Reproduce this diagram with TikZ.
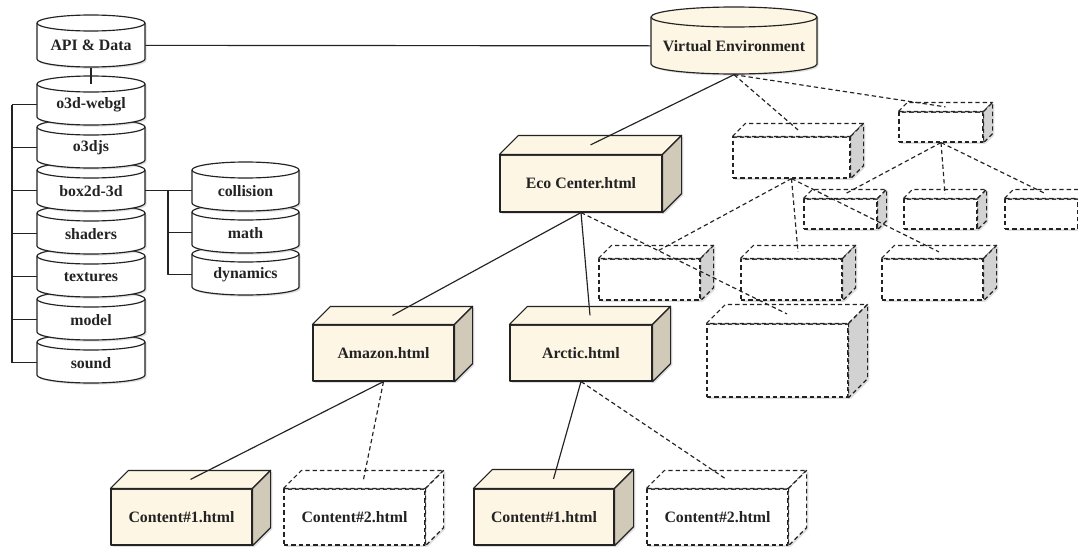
\documentclass[tikz,border=0pt]{standalone}
\usepackage{fontspec}
\setmainfont{Liberation Serif}
\usetikzlibrary{shadows}

\definecolor{cream}{RGB}{253,246,228}
\definecolor{creamside}{RGB}{210,202,184}
\definecolor{greyside}{RGB}{210,210,210}
\definecolor{ink}{RGB}{35,35,35}

\def\pxu{0.6pt}

\tikzset{
  soft/.style={drop shadow={opacity=0.25, shadow xshift=1pt, shadow yshift=-1pt}},
  page/.style={draw=ink, fill=cream, line width=0.7pt, soft},
  ghost/.style={draw=ink, dash pattern=on 2.6pt off 1.8pt, fill=white, line width=0.7pt, soft},
  link/.style={draw=ink, line width=0.7pt},
  dlink/.style={link, dash pattern=on 2.6pt off 1.8pt},
}

% name, cx, top centre y, x radius, y radius, body height, fill, text
\newcommand{\drum}[8]{%
  \path[draw=ink, line width=0.7pt, fill=#7, soft] (#2-#4,#3) -- (#2-#4,#3+#6)
    arc[start angle=180, end angle=360, x radius=#4*\pxu, y radius=#5*\pxu]
    -- (#2+#4,#3)
    arc[start angle=0, end angle=180, x radius=#4*\pxu, y radius=#5*\pxu] -- cycle;
  \draw[ink, line width=0.7pt] (#2-#4,#3)
    arc[start angle=180, end angle=360, x radius=#4*\pxu, y radius=#5*\pxu];
  \node[minimum width=2*#4*\pxu, minimum height=(#6+#5)*\pxu, anchor=north, inner sep=0pt] (#1) at (#2,#3) {#8};
}

% node, depth, line style, top fill, side fill
\newcommand{\pagecube}[5]{%
  \draw[#3, fill=#4] (#1.north west) -- ++(#2,-#2) -- ([shift={(#2,-#2)}]#1.north east) -- (#1.north east) -- cycle;
  \draw[#3, fill=#5] (#1.north east) -- ++(#2,-#2) -- ([shift={(#2,-#2)}]#1.south east) -- (#1.south east) -- cycle;
  \coordinate (#1-top) at ([shift={(#2/2,-#2/2)}]#1.north);
}

\begin{document}
\begin{tikzpicture}[x=0.6pt, y=-0.6pt, font=\fontsize{9.5}{11}\selectfont\bfseries, text=ink, line join=round]
\useasboundingbox (0,0) rectangle (1078,546);

% Data stacks
\drum{api}{91}{23}{54}{8}{36}{white}{API \& Data}
\foreach \n/\i/\t in {sound/6/sound, model/5/model, textures/4/textures, shaders/3/shaders,
                      box2d/2/box2d-3d, o3djs/1/o3djs, webgl/0/o3d-webgl} {
  \drum{\n}{91}{84+43*\i}{54}{8}{33}{white}{\t}
}
\foreach \n/\i/\t in {dynamics/2/dynamics, math/1/math, collision/0/collision} {
  \drum{\n}{245.5}{170+42*\i}{53.5}{8}{33}{white}{\t}
}
\drum{ve}{734}{17}{83}{10}{47}{cream}{Virtual Environment}

% Brackets
\coordinate (lbus) at (12,0);
\coordinate (rbus) at (168,0);
\foreach \n in {webgl, o3djs, box2d, shaders, textures, model, sound}
  \draw[link] (\n.west) -- (\n.west -| lbus);
\draw[link] (webgl.west -| lbus) -- (sound.west -| lbus);
\draw[link] (box2d.east) -- (collision.west);
\draw[link] (box2d.east -| rbus) |- (dynamics.west);
\draw[link] (math.west -| rbus) -- (math.west);

% Pages
\node[page, minimum width=162*\pxu, minimum height=57*\pxu] (eco) at (581,183.5) {Eco Center.html};
\pagecube{eco}{19}{page}{cream}{creamside}
\node[page, minimum width=141*\pxu, minimum height=56*\pxu] (amazon) at (383.5,353) {Amazon.html};
\pagecube{amazon}{18}{page}{cream}{creamside}
\node[page, minimum width=142*\pxu, minimum height=56*\pxu] (arctic) at (581,353) {Arctic.html};
\pagecube{arctic}{18}{page}{cream}{creamside}
\node[page, minimum width=141*\pxu, minimum height=56*\pxu] (conta) at (181.5,517) {Content\#1.html};
\pagecube{conta}{18}{page}{cream}{creamside}
\node[ghost, minimum width=141*\pxu, minimum height=56*\pxu] (contb) at (354.5,517) {Content\#2.html};
\pagecube{contb}{18}{ghost}{white}{white}
\node[page, minimum width=140*\pxu, minimum height=56*\pxu] (contc) at (544,517) {Content\#1.html};
\pagecube{contc}{19}{page}{cream}{creamside}
\node[ghost, minimum width=141*\pxu, minimum height=56*\pxu] (contd) at (717.5,517) {Content\#2.html};
\pagecube{contd}{18}{ghost}{white}{white}

% Empty pages
\node[ghost, minimum width=117*\pxu, minimum height=41*\pxu] (ga) at (791.5,157.5) {};
\pagecube{ga}{13}{ghost}{white}{greyside}
\node[ghost, minimum width=84*\pxu, minimum height=30*\pxu] (gb) at (941,127) {};
\pagecube{gb}{9}{ghost}{white}{greyside}
\foreach \n/\x in {gc/840.5, gd/940.5, ge/1041.5} {
  \node[ghost, minimum width=73*\pxu, minimum height=30*\pxu] (\n) at (\x,214) {};
  \pagecube{\n}{9}{ghost}{white}{greyside}
}
\foreach \n/\x in {gf/649.5, gg/791.5, gh/932.5} {
  \node[ghost, minimum width=101*\pxu, minimum height=41*\pxu] (\n) at (\x,279.5) {};
  \pagecube{\n}{13}{ghost}{white}{greyside}
}
\node[ghost, minimum width=141*\pxu, minimum height=73*\pxu] (gi) at (777.5,360.5) {};
\pagecube{gi}{19}{ghost}{white}{greyside}

% Links
\draw[link] (api.south) -- (webgl.north);
\draw[link] (api.east) -- (ve.west);
\draw[link] (ve.south) -- (eco-top);
\draw[dlink] (ve.south) -- (ga-top);
\draw[dlink] (ve.south) -- (gb-top);
\foreach \n in {gf, gg, gh}
  \draw[dlink] (ga.south) -- (\n-top);
\foreach \n in {gc, gd, ge}
  \draw[dlink] (gb.south) -- (\n-top);
\draw[link] (eco.south) -- (amazon-top);
\draw[link] (eco.south) -- (arctic-top);
\draw[dlink] (eco.south) -- (gi-top);
\draw[link] (amazon.south) -- (conta-top);
\draw[dlink] (amazon.south) -- (contb-top);
\draw[link] (arctic.south) -- (contc-top);
\draw[dlink] (arctic.south) -- (contd-top);
\end{tikzpicture}
\end{document}
